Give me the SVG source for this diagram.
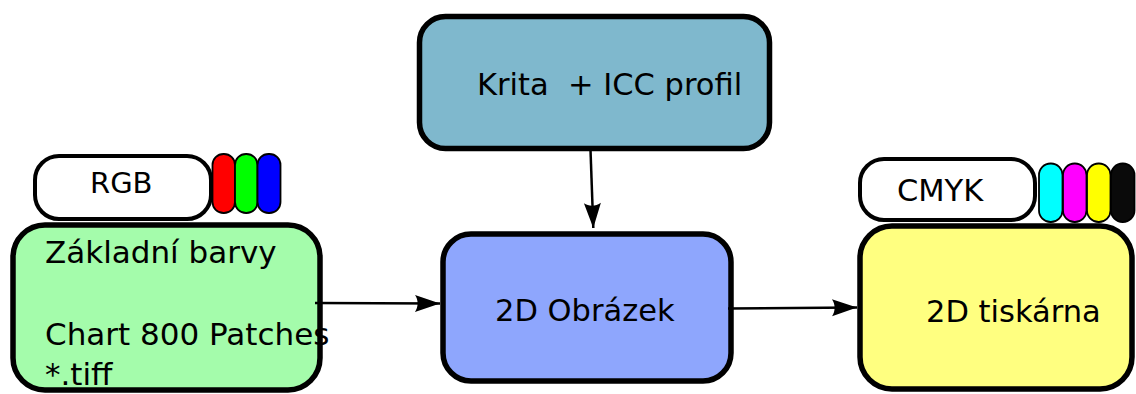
<svg xmlns="http://www.w3.org/2000/svg" width="1136" height="394" viewBox="0 0 1136 394">
<style>
text { font-family: "DejaVu Sans", "Liberation Sans", sans-serif; font-size: 30.5px; fill: #000; white-space: pre; }
.box { stroke: #000; stroke-width: 5.5; }
.pill { fill: #fff; stroke: #000; stroke-width: 4; }
.ink { stroke: #000; stroke-width: 1.8; }
.conn { fill: none; stroke: #000; stroke-width: 2.5; marker-end: url(#arrow); }
</style>
<defs>
<marker id="arrow" markerUnits="userSpaceOnUse" markerWidth="30" markerHeight="20" viewBox="-26 -10 28 20" refX="0" refY="0" orient="auto">
<path d="M0,0 L-25,-8.5 C-21.5,-3.5 -21.5,3.5 -25,8.5 Z" fill="#000"/>
</marker>
</defs>
<g id="krita">
<rect class="box" x="419.5" y="16.5" width="350" height="132" rx="26" fill="#7fb8cd"/>
<text x="477" y="95">Krita  + ICC profil</text>
</g>
<g id="obrazek">
<rect class="box" x="443" y="234" width="288" height="147" rx="28" fill="#8ea6fd"/>
<text x="495" y="321">2D Obrázek</text>
</g>
<g id="zakladni">
<rect class="box" x="13" y="225" width="307" height="165" rx="32" fill="#a4fcab"/>
<text x="45" y="263" style="font-size:31px">Základní barvy</text>
<text x="45" y="345" style="font-size:31px">Chart 800 Patches</text>
<text x="45" y="385" style="font-size:31px">*.tiff</text>
</g>
<g id="rgb">
<rect class="pill" x="35" y="156" width="176" height="63" rx="24"/>
<text x="90" y="193" style="font-size:29px">RGB</text>
<rect class="ink" x="212.5" y="154" width="22.5" height="59" rx="11" fill="#ff0000"/>
<rect class="ink" x="235" y="154" width="22.5" height="59" rx="11" fill="#00ff00"/>
<rect class="ink" x="257.5" y="154" width="23" height="59" rx="11" fill="#0000ff"/>
</g>
<g id="tiskarna">
<rect class="box" x="860" y="226" width="272" height="163" rx="32" fill="#ffff80"/>
<text x="926" y="322">2D tiskárna</text>
</g>
<g id="cmyk">
<rect class="pill" x="860" y="159" width="175" height="61" rx="24"/>
<text x="897" y="201">CMYK</text>
<rect class="ink" x="1039" y="163.5" width="23.5" height="58.5" rx="11.5" fill="#00ffff"/>
<rect class="ink" x="1063" y="163.5" width="23.5" height="58.5" rx="11.5" fill="#ff00ff"/>
<rect class="ink" x="1087" y="163.5" width="23.5" height="58.5" rx="11.5" fill="#ffff00"/>
<rect class="ink" x="1111" y="163.5" width="23.5" height="58.5" rx="11.5" fill="#0a0a0a"/>
</g>
<g id="connectors">
<line class="conn" x1="315" y1="303" x2="440" y2="303.5"/>
<line class="conn" x1="728" y1="308.5" x2="857" y2="307.5"/>
<line class="conn" x1="590.5" y1="150" x2="593.3" y2="228"/>
</g>
</svg>
